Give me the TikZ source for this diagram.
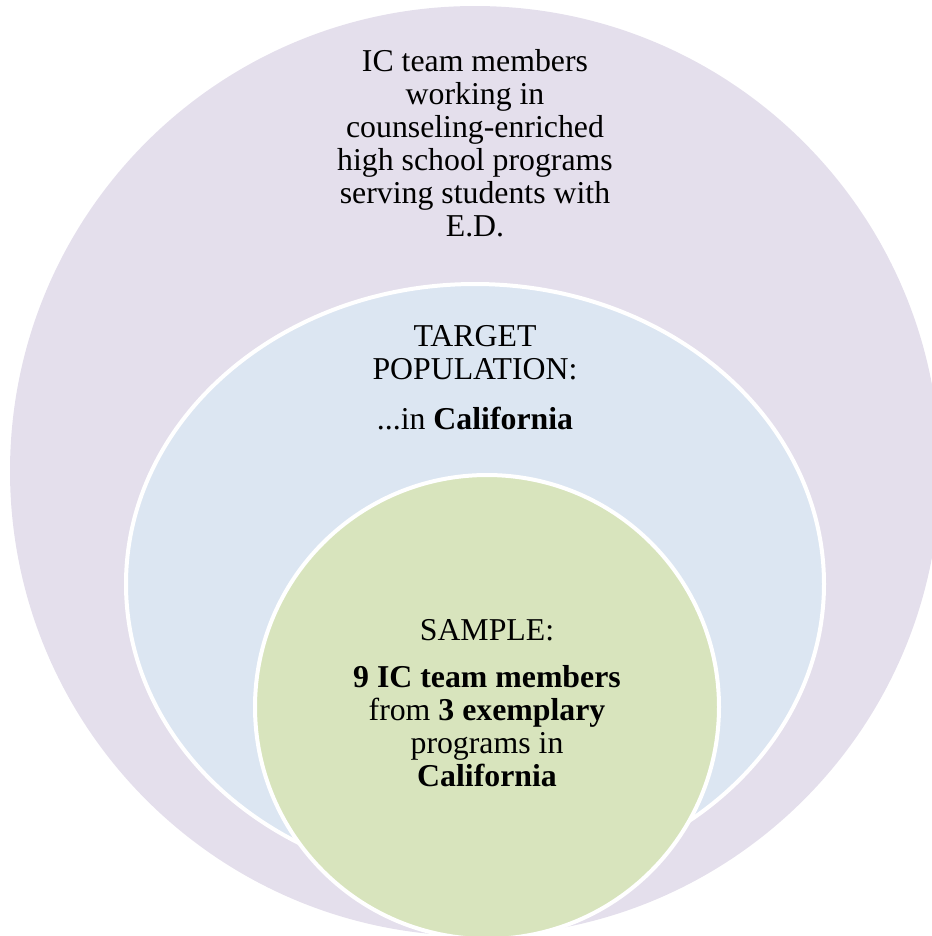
\documentclass[tikz,border=0pt]{standalone}
\usepackage{fontspec}
\setmainfont{Liberation Serif}
\definecolor{outerfill}{HTML}{E4DFEC}
\definecolor{midfill}{HTML}{DCE6F2}
\definecolor{innerfill}{HTML}{D8E4BD}
\begin{document}
\begin{tikzpicture}[x=0.75pt,y=-0.75pt,
  ring/.style={draw=white,line width=3pt},
  lbl/.style={align=center,inner sep=0pt,font=\fontsize{23.85pt}{24.75pt}\selectfont,text=black}]
\useasboundingbox (0,0) rectangle (932,936);
\clip (0,0) rectangle (932,936);
% three nested sets
\fill[outerfill] (475,471) circle (465);
\draw[ring,fill=midfill] (475,584) ellipse [x radius=349, y radius=300];
\draw[ring,fill=innerfill] (487,707) circle (232);
% labels
\node[lbl] (outertext) at (475,143) {IC team members\\working in\\counseling-enriched\\high school programs\\serving students with\\E.D.};
\node[lbl] (midtext) at (475,378) {TARGET\\POPULATION:\\[13pt]...in \textbf{California}};
\node[lbl] (innertext) at (487,703) {SAMPLE:\\[10.5pt]\textbf{9 IC team members}\\from \textbf{3 exemplary}\\programs in\\\textbf{California}};
\end{tikzpicture}
\end{document}
